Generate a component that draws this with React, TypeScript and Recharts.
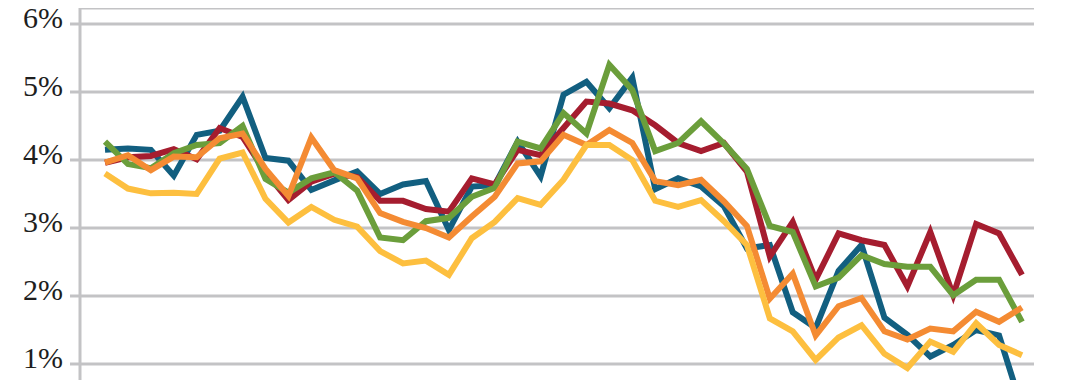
import { CartesianGrid, Line, LineChart, XAxis, YAxis } from "recharts";

const periods = [
  "1", "2", "3", "4", "5", "6", "7", "8", "9", "10", "11", "12", "13", "14",
  "15", "16", "17", "18", "19", "20", "21", "22", "23", "24", "25", "26", "27",
  "28", "29", "30", "31", "32", "33", "34", "35", "36", "37", "38", "39", "40", "41"
];
const blue = [
  4.15, 4.17, 4.15, 3.77, 4.37, 4.43, 4.93, 4.03, 3.99, 3.56, 3.7, 3.83, 3.5, 3.64,
  3.69, 2.97, 3.61, 3.63, 4.27, 3.76, 4.96, 5.15, 4.76, 5.21, 3.57, 3.73, 3.61,
  3.32, 2.7, 2.75, 1.76, 1.53, 2.37, 2.75, 1.68, 1.43, 1.11, 1.28, 1.5, 1.42, 0.35
];
const red = [
  3.96, 4.04, 4.06, 4.16, 4.01, 4.47, 4.34, 3.82, 3.41, 3.68, 3.8, 3.75, 3.4, 3.4,
  3.28, 3.24, 3.73, 3.64, 4.15, 4.07, 4.47, 4.86, 4.83, 4.73, 4.51, 4.25, 4.13,
  4.25, 3.83, 2.58, 3.09, 2.24, 2.92, 2.82, 2.75, 2.14, 2.94, 2.01, 3.06, 2.92, 2.31
];
const green = [
  4.27, 3.94, 3.88, 4.1, 4.22, 4.25, 4.5, 3.72, 3.52, 3.73, 3.82, 3.55, 2.86, 2.82,
  3.1, 3.15, 3.46, 3.59, 4.27, 4.17, 4.69, 4.39, 5.4, 5.03, 4.13, 4.25, 4.57,
  4.24, 3.87, 3.03, 2.94, 2.14, 2.27, 2.6, 2.47, 2.43, 2.43, 2.01, 2.24, 2.24, 1.62
];
const orange = [
  3.96, 4.07, 3.85, 4.05, 4.04, 4.32, 4.39, 3.87, 3.47, 4.33, 3.85, 3.73, 3.22, 3.09,
  3.0, 2.86, 3.17, 3.46, 3.95, 3.98, 4.37, 4.22, 4.44, 4.25, 3.69, 3.63, 3.71,
  3.39, 3.03, 1.96, 2.33, 1.42, 1.85, 1.97, 1.48, 1.36, 1.52, 1.48, 1.77, 1.62, 1.83
];
const yellow = [
  3.8, 3.58, 3.51, 3.52, 3.5, 4.02, 4.11, 3.43, 3.08, 3.31, 3.12, 3.02, 2.66, 2.48,
  2.52, 2.31, 2.85, 3.09, 3.44, 3.34, 3.71, 4.22, 4.22, 4.0, 3.4, 3.31, 3.41,
  3.1, 2.75, 1.67, 1.48, 1.06, 1.39, 1.57, 1.15, 0.94, 1.33, 1.18, 1.6, 1.28, 1.13
];
const yTicks = [1, 2, 3, 4, 5, 6];

const data = periods.map((p, i) => ({
  period: p,
  blue: blue[i],
  red: red[i],
  green: green[i],
  orange: orange[i],
  yellow: yellow[i]
}));

const series = [
  { key: "blue", color: "#125f80" },
  { key: "red", color: "#a51d2f" },
  { key: "green", color: "#6b9e3b" },
  { key: "orange", color: "#f48b33" },
  { key: "yellow", color: "#fdbf3f" }
];

const gridColor = "#c3c3c5";
const serif = "'Palatino Linotype', 'Book Antiqua', Palatino, 'Liberation Serif', serif";

function PercentTick({ x, y, payload }: any) {
  return (
    <text x={x} y={y} dy={4} textAnchor="end" fontFamily={serif} fontSize={30} fill="#1e1e1e">
      {payload.value}%
    </text>
  );
}

// the original is cropped just under 1%, so the plot runs past the bottom edge
export default function App() {
  return (
    <div style={{ width: 1072, height: 380, marginTop: -8, overflow: "hidden" }}>
      <LineChart width={1072} height={432} data={data} margin={{ top: 8, right: 46, bottom: 0, left: 0 }}>
        <CartesianGrid horizontal vertical={false} stroke={gridColor} strokeWidth={3} />
        <XAxis dataKey="period" hide padding={{ left: 25, right: 12 }} />
        <YAxis
          width={72}
          domain={[0, 6]}
          ticks={yTicks}
          interval={0}
          padding={{ top: 16, bottom: 0 }}
          axisLine={{ stroke: gridColor, strokeWidth: 3 }}
          tickLine={{ stroke: gridColor, strokeWidth: 3 }}
          tickSize={10}
          tickMargin={7}
          tick={<PercentTick />}
        />
        {series.map((s) => (
          <Line
            key={s.key}
            type="linear"
            dataKey={s.key}
            stroke={s.color}
            strokeWidth={6}
            dot={false}
            activeDot={false}
            isAnimationActive={false}
          />
        ))}
      </LineChart>
    </div>
  );
}
